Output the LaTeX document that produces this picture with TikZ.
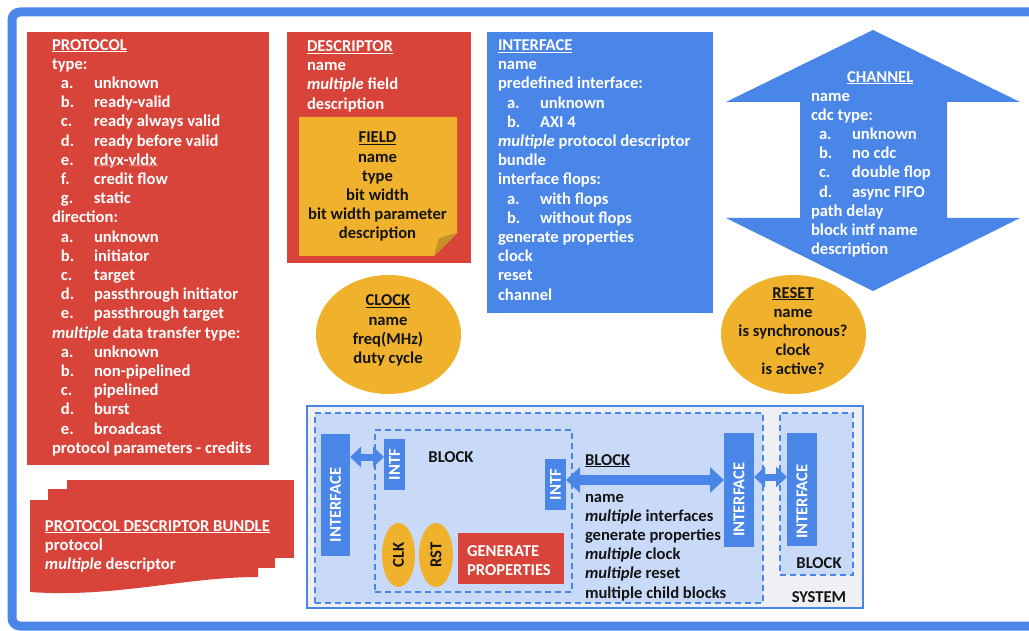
\documentclass[tikz,border=0pt]{standalone}
\usepackage{fontspec}
\setmainfont{Carlito}
\usetikzlibrary{shapes.geometric,arrows.meta,fit,decorations.pathmorphing}
\definecolor{redc}{RGB}{216,68,58}
\definecolor{bluec}{RGB}{74,134,232}
\definecolor{yelc}{RGB}{240,178,44}
\definecolor{foldc}{RGB}{196,146,40}
\definecolor{lblue}{RGB}{201,218,248}
\definecolor{lgray}{RGB}{238,240,243}
\definecolor{ink}{RGB}{20,20,20}
\definecolor{pinkc}{RGB}{240,150,150}
\newcommand\fs{\rule{0pt}{13pt}}
\newcommand\li[2]{\hspace*{9pt}\makebox[33pt][l]{#1}#2}
\newcommand\mi{\textit{multiple}}
\newcommand\ul[1]{\setbox0=\hbox{#1}\rlap{\rule[-2.2pt]{\wd0}{1.1pt}}\box0}
\begin{document}
\begin{tikzpicture}[x=1pt,y=-1pt,
  txt/.style={inner sep=0, outer sep=0, align=left, anchor=north west, font=\fontsize{16.6}{19.2}\selectfont\bfseries, text=white},
  ctxt/.style={txt, align=center, anchor=north},
  area/.style={inner sep=0, outer sep=0, draw=none},
  dbox/.style={inner sep=0, outer sep=0, fill=lblue, draw=bluec, line width=1.3pt, dash pattern=on 6pt off 4pt},
  ibox/.style={rectangle, inner sep=0, outer sep=0, fill=bluec, text=white, font=\fontsize{16.6}{19.2}\selectfont\bfseries},
  oval/.style={ellipse, inner sep=0, outer sep=0, fill=yelc, text=ink, font=\fontsize{16.6}{19.2}\selectfont\bfseries},
  bigarrow/.style={draw=bluec, line width=10pt, {Triangle[length=14pt,width=25pt]}-{Triangle[length=14pt,width=25pt]}},
  smallarrow/.style={draw=bluec, line width=7pt, {Triangle[length=11pt,width=20pt]}-{Triangle[length=11pt,width=20pt]}}
]
\useasboundingbox (0,0) rectangle (1029,631);
\fill[white] (0,0) rectangle (1029,631);
% outer frame
\draw[bluec, line width=9pt, rounded corners=8pt] (12,12) rectangle (1045,626);

% PROTOCOL
\node[area, fill=redc, fit={(27,32) (269,465)}] (protocol) {};
\node[txt] (ptext) at (52,37) {\fs\ul{PROTOCOL}\\ type:\\ \li{a.}{unknown}\\ \li{b.}{ready-valid}\\ \li{c.}{ready always valid}\\ \li{d.}{ready before valid}\\ \li{e.}{rdyx-vldx}\\ \li{f.}{credit flow}\\ \li{g.}{static}\\ direction:\\ \li{a.}{unknown}\\ \li{b.}{initiator}\\ \li{c.}{target}\\ \li{d.}{passthrough initiator}\\ \li{e.}{passthrough target}\\ \mi{} data transfer type:\\ \li{a.}{unknown}\\ \li{b.}{non-pipelined}\\ \li{c.}{pipelined}\\ \li{d.}{burst}\\ \li{e.}{broadcast}\\ protocol parameters - credits};
\draw[pinkc, line width=0.6pt, decorate, decoration={snake, amplitude=0.7pt, segment length=3pt}] (94,165.5) -- (116,165.5);
\draw[pinkc, line width=0.6pt, decorate, decoration={snake, amplitude=0.7pt, segment length=3pt}] (129,165.5) -- (158,165.5);

% DESCRIPTOR
\node[area, fill=redc, fit={(287,32) (471,263)}] (descriptor) {};
\node[txt] (dtext) at (307,38.5) {\fs\ul{DESCRIPTOR}\\ name\\ \mi{} field\\ description};
\fill[yelc] (299,117) -- (457,117) -- (457,233) -- (434,256) -- (299,256) -- cycle;
\fill[foldc] (457,233) -- (434,256) -- (439,238) -- cycle;
\node[ctxt, text=ink] (ftext) at (377.5,130) {\fs\ul{FIELD}\\ name\\ type\\ bit width\\ bit width parameter\\ description};

% INTERFACE
\node[area, fill=bluec, fit={(487,32) (713,313)}] (interface) {};
\node[txt] (itext) at (498,37.5) {\fs\ul{INTERFACE}\\ name\\ predefined interface:\\ \li{a.}{unknown}\\ \li{b.}{AXI 4}\\ \mi{} protocol descriptor\\ bundle\\ interface flops:\\ \li{a.}{with flops}\\ \li{b.}{without flops}\\ generate properties\\ clock\\ reset\\ channel};

% CHANNEL
\fill[bluec] (873,30) -- (1020,102) -- (947,102) -- (947,218) -- (1020,218) -- (873,291) -- (726,218) -- (800,218) -- (800,102) -- (726,102) -- cycle;
\node[txt] (ctext) at (811,69) {\fs\hspace*{36pt}\ul{CHANNEL}\\ name\\ cdc type:\\ \hspace*{-1pt}\li{a.}{unknown}\\ \hspace*{-1pt}\li{b.}{no cdc}\\ \hspace*{-1pt}\li{c.}{double flop}\\ \hspace*{-1pt}\li{d.}{async FIFO}\\ path delay\\ block intf name\\ description};

% CLOCK and RESET
\node[oval, minimum width=145pt, minimum height=119pt] (clock) at (388.5,334.5) {};
\node[ctxt, text=ink] (cktext) at (388,293) {\fs\ul{CLOCK}\\ name\\ freq(MHz)\\ duty cycle};
\node[oval, minimum width=145pt, minimum height=119pt] (reset) at (793.5,334.5) {};
\node[ctxt, text=ink] (rstext) at (793,285) {\fs\ul{RESET}\\ name\\ is synchronous?\\ clock\\ is active?};

% PROTOCOL DESCRIPTOR BUNDLE
\fill[redc] (67,480) rectangle (294,558);
\fill[redc] (48,489) rectangle (275,568);
\fill[redc] (30,500) -- (258,500) -- (258,577) .. controls (185,577) and (115,598) .. (30,592) -- cycle;
\node[txt] (pdbtext) at (45,518) {\fs\ul{PROTOCOL DESCRIPTOR BUNDLE}\\ protocol\\ \mi{} descriptor};

% SYSTEM
\node[area, fill=lgray, draw=bluec, line width=1.5pt, fit={(307,406) (863,608)}] (system) {};
\node[dbox, fit={(315,413) (763,603)}] (outerblk) {};
\node[dbox, fit={(375,430) (572,592)}] (innerblk) {};
\node[dbox, fit={(780,413) (853,575)}] (rightblk) {};

\node[ibox, minimum width=29pt, minimum height=122pt] (iface1) at (335.5,495) {\rotatebox{90}{INTERFACE\hspace*{20pt}}};
\node[ibox, minimum width=21pt, minimum height=51pt] (intf1) at (394.5,464.5) {\rotatebox{90}{INTF}};
\node[ibox, minimum width=21pt, minimum height=51pt] (intf2) at (555.5,484.5) {\rotatebox{90}{INTF}};
\node[ibox, minimum width=30pt, minimum height=114pt] (iface2) at (739,490) {\rotatebox{90}{INTERFACE\hspace*{19pt}}};
\node[ibox, minimum width=30pt, minimum height=113pt] (iface3) at (802,489.5) {\rotatebox{90}{INTERFACE\hspace*{24pt}}};

\node[oval, minimum width=33pt, minimum height=64pt] (clk) at (398.5,555) {\rotatebox{90}{CLK}};
\node[oval, minimum width=34pt, minimum height=64pt] (rst) at (436,555) {\rotatebox{90}{RST}};
\node[area, fill=redc, fit={(458,533) (564,584)}] (gen) {};
\node[txt] (gentext) at (467,543) {\fs GENERATE\\ PROPERTIES};

\node[ctxt, text=ink] (blk1) at (451,449) {\fs BLOCK};
\node[txt, text=ink] (blk2) at (585,452) {\fs\ul{BLOCK}};
\node[txt, text=ink] (blklist) at (585,489) {\fs name\\ \mi{} interfaces\\ generate properties\\ \mi{} clock\\ \mi{} reset\\ multiple child blocks};
\node[ctxt, text=ink] (blk3) at (819,555) {\fs BLOCK};
\node[ctxt, text=ink] (sys) at (819,589.5) {\fs SYSTEM};

% connectors
\coordinate (r1) at (0,457);
\coordinate (r2) at (0,480);
\coordinate (r3) at (0,477);
\draw[smallarrow] (iface1.east |- r1) -- (intf1.west |- r1);
\draw[bigarrow] (intf2.east |- r2) -- (iface2.west |- r2);
\draw[smallarrow] (iface2.east |- r3) -- (iface3.west |- r3);
\end{tikzpicture}
\end{document}
